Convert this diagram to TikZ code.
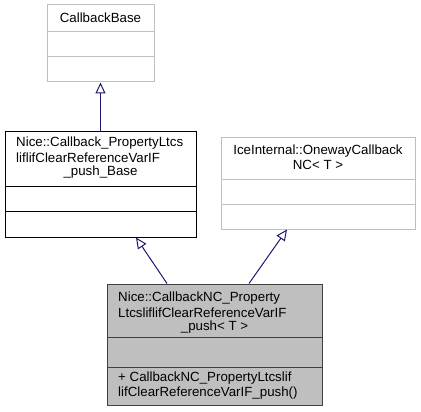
\documentclass[tikz,border=0pt]{standalone}
\usepackage{fontspec}
\setmainfont{Liberation Sans}
\usetikzlibrary{arrows.meta}
\definecolor{edgeblue}{HTML}{191970}
\definecolor{boxgray}{HTML}{BFBFBF}
\definecolor{darkborder}{HTML}{404040}
\begin{document}
\begin{tikzpicture}[x=1pt,y=-1pt,
  umlbox/.style={draw, line width=1pt, minimum width=#1, inner sep=0pt},
  txt/.style={inner sep=0pt, font=\fontsize{13.3}{15}\selectfont},
  inherit/.style={draw=edgeblue, line width=1pt, -{Triangle[open,length=11pt,width=10pt]}}]
\useasboundingbox (0,0) rectangle (421,412);
% CallbackBase
\node[umlbox=107pt, draw=boxgray, minimum height=77pt] (cb) at (100.5,43.5) {};
\draw[boxgray, line width=1pt] (47,32) -- (154,32) (47,57) -- (154,57);
\node[txt] (cbt) at (100.5,18) {CallbackBase};
% Base
\node[umlbox=191pt, draw=black, minimum height=105pt] (base) at (100.5,184.5) {};
\draw[black, line width=1pt] (5,186) -- (196,186) (5,211) -- (196,211);
\node[txt, anchor=west] (b1) at (16,143) {Nice::Callback\_PropertyLtcs};
\node[txt, anchor=west] (b2) at (16,158) {liflifClearReferenceVarIF};
\node[txt] (b3) at (100.5,172) {\_push\_Base};
% IceInternal
\node[umlbox=194pt, draw=boxgray, minimum height=91pt] (ice) at (318,183.5) {};
\draw[boxgray, line width=1pt] (221,179) -- (415,179) (221,204) -- (415,204);
\node[txt] (i1) at (318,151) {IceInternal::OnewayCallback};
\node[txt] (i2) at (318,165) {NC< T >};
% Bottom
\node[umlbox=215pt, draw=darkborder, fill=boxgray, minimum height=121pt] (bot) at (214.5,344.5) {};
\draw[darkborder, line width=1pt] (107,337) -- (322,337) (107,367) -- (322,367);
\node[txt, anchor=west] (t1) at (118,298) {Nice::CallbackNC\_Property};
\node[txt, anchor=west] (t2) at (118,313) {LtcsliflifClearReferenceVarIF};
\node[txt] (t3) at (214.5,327) {\_push< T >};
\node[txt, anchor=west] (m1) at (118,378) {+ CallbackNC\_PropertyLtcslif};
\node[txt, anchor=west] (m2) at (118,393) {lifClearReferenceVarIF\_push()};
% Edges
\draw[inherit] (base.north) -- (cb.south);
\draw[inherit] ([xshift=-47.5pt]bot.north) -- ([xshift=35.5pt]base.south);
\draw[inherit] ([xshift=34.5pt]bot.north) -- ([xshift=-31pt]ice.south);
\end{tikzpicture}
\end{document}
